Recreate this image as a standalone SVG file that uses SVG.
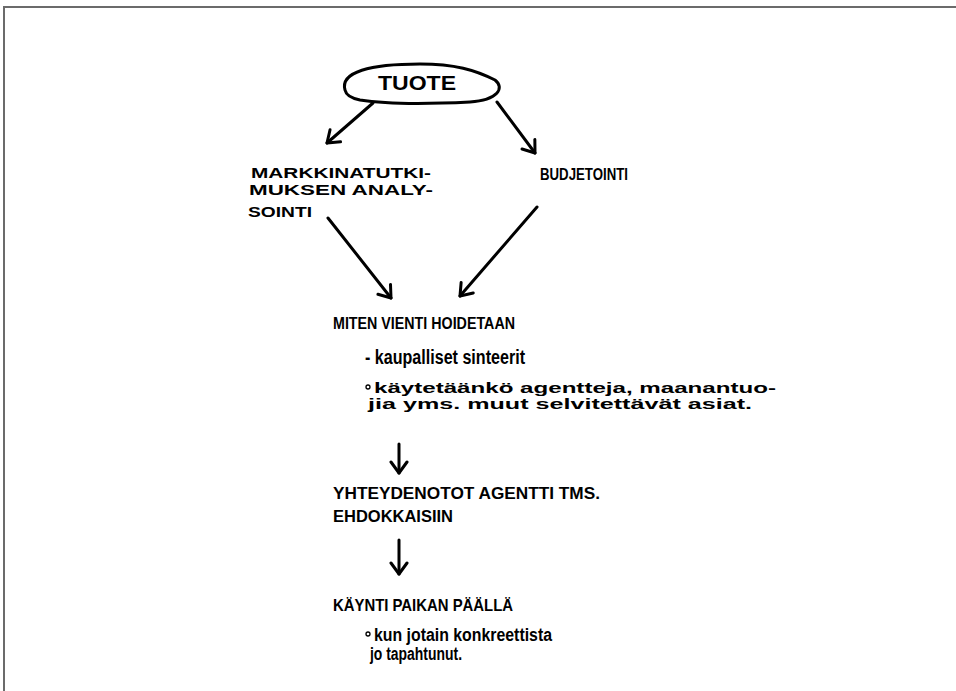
<svg xmlns="http://www.w3.org/2000/svg" width="956" height="691" viewBox="0 0 956 691">
<style>
.t{font-family:"Liberation Sans",Arial,sans-serif;fill:#000;font-weight:bold}
.cap{font-size:17px}
.low{font-size:18px}
.c{fill:none;stroke:#000;stroke-width:3;stroke-linecap:round;stroke-linejoin:round}
.frame{fill:none;stroke:#6b6b6b;stroke-width:2}
</style>
<defs>
<marker id="ah" markerUnits="userSpaceOnUse" viewBox="-14 -10 16 20" refX="0" refY="0" markerWidth="16" markerHeight="20" orient="auto">
<path d="M-11,-8 L0,0 L-11,8" fill="none" stroke="#000" stroke-width="3" stroke-linecap="round" stroke-linejoin="round"/>
</marker>
</defs>
<rect width="956" height="691" fill="#fff"/>
<path class="frame" d="M4,691 V7 H956"/>
<g id="tuote">
<path class="c" d="M345,90 C340,72 370,64 420,64 C455,64 475,70 495,80 C505,88 498,100 470,102 C430,104 385,104 360,100 C350,98 346,95 345,90 Z"/>
<text class="t" x="378" y="90" font-size="21" textLength="78" lengthAdjust="spacingAndGlyphs">TUOTE</text>
</g>
<g id="markkinatutkimus">
<text class="t" font-size="15" x="251" y="178" textLength="180" lengthAdjust="spacingAndGlyphs">MARKKINATUTKI-</text>
<text class="t" font-size="15" x="249" y="195" textLength="184" lengthAdjust="spacingAndGlyphs">MUKSEN ANALY-</text>
<text class="t" font-size="15" x="248" y="217" textLength="64" lengthAdjust="spacingAndGlyphs">SOINTI</text>
</g>
<g id="budjetointi">
<text class="t cap" x="540" y="180" textLength="88" lengthAdjust="spacingAndGlyphs">BUDJETOINTI</text>
</g>
<g id="miten">
<text class="t cap" x="333" y="329" textLength="182" lengthAdjust="spacingAndGlyphs">MITEN VIENTI HOIDETAAN</text>
<text class="t" font-size="20" x="365" y="364" textLength="160" lengthAdjust="spacingAndGlyphs">- kaupalliset sinteerit</text>
<circle cx="368" cy="387" r="2" fill="none" stroke="#000" stroke-width="1.3"/>
<text class="t" font-size="15" x="374" y="393" textLength="402" lengthAdjust="spacingAndGlyphs">käytetäänkö agentteja, maanantuo-</text>
<text class="t" font-size="15" x="368" y="409" textLength="384" lengthAdjust="spacingAndGlyphs">jia yms. muut selvitettävät asiat.</text>
</g>
<g id="yhteydenotot">
<text class="t cap" x="333" y="499" textLength="267" lengthAdjust="spacingAndGlyphs">YHTEYDENOTOT AGENTTI TMS.</text>
<text class="t cap" x="333" y="522" textLength="120" lengthAdjust="spacingAndGlyphs">EHDOKKAISIIN</text>
</g>
<g id="kaynti">
<text class="t cap" x="333" y="611" textLength="180" lengthAdjust="spacingAndGlyphs">KÄYNTI PAIKAN PÄÄLLÄ</text>
<circle cx="368" cy="634" r="2" fill="none" stroke="#000" stroke-width="1.3"/>
<text class="t low" x="374" y="641" textLength="178" lengthAdjust="spacingAndGlyphs">kun jotain konkreettista</text>
<text class="t low" x="370" y="660" textLength="92" lengthAdjust="spacingAndGlyphs">jo tapahtunut.</text>
</g>
<g id="connectors">
<path class="c" d="M373,103 L327,143" marker-end="url(#ah)"/>
<path class="c" d="M497,102 L535,153" marker-end="url(#ah)"/>
<path class="c" d="M328,218 L391,298" marker-end="url(#ah)"/>
<path class="c" d="M537,207 L460,296" marker-end="url(#ah)"/>
<path class="c" d="M399,444 L399,473" marker-end="url(#ah)"/>
<path class="c" d="M399,540 L399,574" marker-end="url(#ah)"/>
</g>
</svg>
